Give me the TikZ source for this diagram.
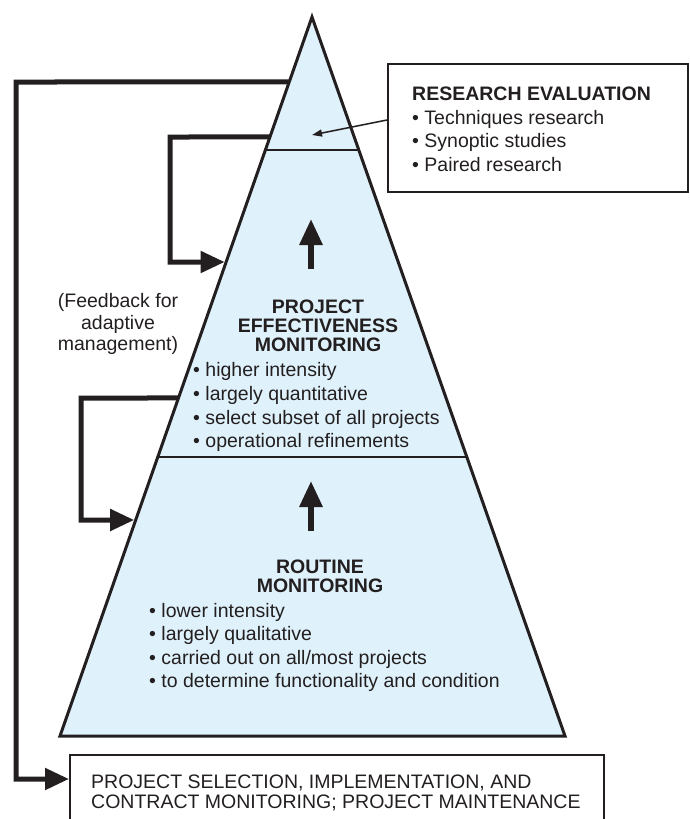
\documentclass[tikz,border=0pt]{standalone}
\usepackage{fontspec}
\setmainfont{Liberation Sans}
\usetikzlibrary{arrows.meta,calc}
\definecolor{ink}{HTML}{231F20}
\definecolor{pyr}{HTML}{DFF1FA}
\begin{document}
\begin{tikzpicture}[x=1pt,y=-1pt,
  txt/.style={inner sep=0pt, text=ink, font=\fontsize{19.5}{20}\selectfont},
  ttl/.style={inner sep=0pt, text=ink, font=\fontsize{19.5}{20}\selectfont\bfseries},
  lft/.style={anchor=base west},
  ctr/.style={anchor=base},
  fbloop/.style={draw=ink, line width=5pt, line join=miter, -{Triangle[length=24pt,width=21pt]}},
  uparrow/.style={draw=ink, line width=6pt, -{Triangle[length=26pt,width=22pt]}},
  thinarrow/.style={draw=ink, line width=1.5pt, -{Triangle[length=10pt,width=7pt]}},
  boxstyle/.style={draw=ink, line width=2pt, inner sep=0pt, fill=white}
]
\useasboundingbox (0,0) rectangle (689,819);
\clip (0,0) rectangle (689,819);

% pyramid geometry
\coordinate (A) at (312,17);
\coordinate (BL) at (60,736);
\coordinate (BR) at (565,736);
\coordinate (eO)  at ($(A)!{65/719}!(BL)$);
\coordinate (e2a) at ($(A)!{120/719}!(BL)$);
\coordinate (e2b) at ($(A)!{245/719}!(BL)$);
\coordinate (e3a) at ($(A)!{381/719}!(BL)$);
\coordinate (e3b) at ($(A)!{503/719}!(BL)$);
\coordinate (d1l) at ($(A)!{133/719}!(BL)$);
\coordinate (d1r) at ($(A)!{133/719}!(BR)$);
\coordinate (d2l) at ($(A)!{440/719}!(BL)$);
\coordinate (d2r) at ($(A)!{440/719}!(BR)$);

% boxes
\node[boxstyle, minimum width=300pt, minimum height=128pt, anchor=north west] (rbox) at (387,63) {};
\node[boxstyle, minimum width=534pt, minimum height=100pt, anchor=north west] (bbox) at (69,754) {};

% feedback loops
\coordinate (o1) at (16,82);
\coordinate (o2) at (16,779);
\coordinate (l2a) at (170,137);
\coordinate (l2b) at (170,262);
\coordinate (l3a) at (81,398);
\coordinate (l3b) at (81,520);
\draw[fbloop] (eO) -- (o1) -- (o2) -- ([yshift=-25pt]bbox.north west);
\draw[fbloop] (e2a) -- (l2a) -- (l2b) -- ([xshift=-1.5pt]e2b);
\draw[fbloop] (e3a) -- (l3a) -- (l3b) -- ([xshift=-1.5pt]e3b);

% pyramid
\draw[draw=ink, fill=pyr, line width=3pt, line join=miter] (A) -- (BL) -- (BR) -- cycle;
\draw[draw=ink, line width=1.5pt] (d1l) -- (d1r);
\draw[draw=ink, line width=1.5pt] (d2l) -- (d2r);

% upward arrows
\coordinate (u1s) at (311,269);
\coordinate (u1e) at (311,219);
\coordinate (u2s) at (311,531);
\coordinate (u2e) at (311,481);
\draw[uparrow] (u1s) -- (u1e);
\draw[uparrow] (u2s) -- (u2e);

% research arrow
\coordinate (rt) at (312,135);
\draw[thinarrow] ([yshift=8pt]rbox.west) -- (rt);

% research text
\node[ttl, lft] (r0) at (412,100) {RESEARCH EVALUATION};
\node[txt, lft] (r1) at (412,124) {\textbullet\ Techniques research};
\node[txt, lft] (r2) at (412,147.5) {\textbullet\ Synoptic studies};
\node[txt, lft] (r3) at (412,171) {\textbullet\ Paired research};

% project effectiveness
\node[ttl, ctr] (p0) at (318,313) {PROJECT};
\node[ttl, ctr] (p1) at (318,332) {EFFECTIVENESS};
\node[ttl, ctr] (p2) at (318,351) {MONITORING};
\node[txt, lft] (p3) at (193,376) {\textbullet\ higher intensity};
\node[txt, lft] (p4) at (193,400) {\textbullet\ largely quantitative};
\node[txt, lft] (p5) at (193,424) {\textbullet\ select subset of all projects};
\node[txt, lft] (p6) at (193,447) {\textbullet\ operational refinements};

% routine
\node[ttl, ctr] (q0) at (320,573) {ROUTINE};
\node[ttl, ctr] (q1) at (320,592) {MONITORING};
\node[txt, lft] (q2) at (149,617) {\textbullet\ lower intensity};
\node[txt, lft] (q3) at (149,640) {\textbullet\ largely qualitative};
\node[txt, lft] (q4) at (149,664) {\textbullet\ carried out on all/most projects};
\node[txt, lft] (q5) at (149,687) {\textbullet\ to determine functionality and condition};

% feedback label
\node[txt, ctr] (f0) at (118,307) {(Feedback for};
\node[txt, ctr] (f1) at (118,329) {adaptive};
\node[txt, ctr] (f2) at (118,350) {management)};

% bottom text
\node[txt, lft] (b0) at (91,788) {PROJECT SELECTION, IMPLEMENTATION, AND};
\node[txt, lft] (b1) at (91,808) {CONTRACT MONITORING; PROJECT MAINTENANCE};
\end{tikzpicture}
\end{document}
